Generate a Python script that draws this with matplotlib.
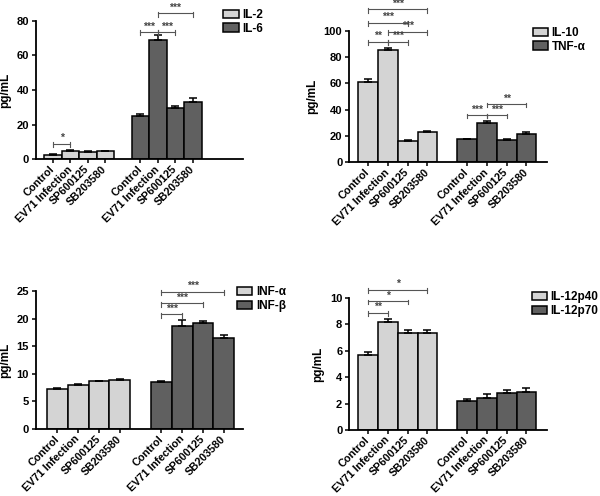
import matplotlib
matplotlib.use("Agg")
import matplotlib.pyplot as plt
from matplotlib.patches import Patch

plt.rcParams['font.family'] = ['Liberation Sans', 'DejaVu Sans']
plt.rcParams['font.weight'] = 'bold'

groups = ['Control', 'EV71 Infection', 'SP600125', 'SB203580']

# panel A
il2 = [2.7, 5.0, 4.3, 4.5]
il2_err = [0.3, 0.6, 0.3, 0.3]
il6 = [25.2, 69.2, 29.5, 33.3]
il6_err = [1.0, 2.7, 1.5, 2.1]

# panel B
il10 = [60.9, 85.5, 16.5, 22.8]
il10_err = [2.3, 1.5, 0.5, 1.2]
tnf = [17.5, 30.2, 17.0, 21.3]
tnf_err = [0.3, 1.0, 0.8, 2.0]

# panel C
infa = [7.25, 7.97, 8.64, 8.94]
infa_err = [0.25, 0.18, 0.16, 0.16]
infb = [8.45, 18.7, 19.26, 16.55]
infb_err = [0.18, 1.0, 0.25, 0.45]

# panel D
p40 = [5.7, 8.19, 7.36, 7.34]
p40_err = [0.25, 0.21, 0.2, 0.26]
p70 = [2.2, 2.4, 2.8, 2.87]
p70_err = [0.18, 0.3, 0.2, 0.33]

# brackets: (x1, x2, y, label) in bar positions (0-3 group 1, 5-8 group 2)
br_a = [(0, 1, 8.9, '*'), (5, 6, 73.6, '***'), (6, 7, 73.6, '***'), (6, 8, 84.5, '***')]
br_b = [(0, 1, 91.9, '**'), (1, 2, 91.9, '***'), (1, 3, 99.5, '***'),
        (0, 2, 106.3, '***'), (0, 3, 116.5, '***'),
        (5, 6, 36, '***'), (6, 7, 36, '***'), (6, 8, 44.4, '**')]
br_c = [(5, 6, 20.8, '***'), (5, 7, 22.8, '***'), (5, 8, 24.9, '***')]
br_d = [(0, 1, 8.9, '**'), (0, 2, 9.77, '*'), (0, 3, 10.65, '*')]

light = '#d4d4d4'
dark = '#606060'

fig = plt.figure(figsize=(6, 4.96), dpi=100)


def panel(rect, v1, e1, v2, e2, ymax, ystep, xlim, brackets, names, leg_xy):
    ax = fig.add_axes(rect)
    pos1 = [0, 1, 2, 3]
    pos2 = [5, 6, 7, 8]
    ax.bar(pos1, v1, width=1.0, color=light, edgecolor='black', linewidth=1.1,
           yerr=[[0] * 4, e1], capsize=3, error_kw=dict(elinewidth=1.1, capthick=1.1))
    ax.bar(pos2, v2, width=1.0, color=dark, edgecolor='black', linewidth=1.1,
           yerr=[[0] * 4, e2], capsize=3, error_kw=dict(elinewidth=1.1, capthick=1.1))
    ax.set_xlim(*xlim)
    ax.set_ylim(0, ymax)
    ax.set_yticks(range(0, ymax + 1, ystep))
    ax.set_xticks(pos1 + pos2)
    ax.set_xticklabels(groups + groups, rotation=45, ha='right', va='center',
                       rotation_mode='anchor', fontsize=7.8, fontweight='bold')
    ax.tick_params(axis='y', labelsize=8, width=1.1, length=3, pad=2)
    ax.tick_params(axis='x', width=1.1, length=3, pad=3)
    for lab in ax.get_yticklabels():
        lab.set_fontweight('bold')
    for s in ['top', 'right']:
        ax.spines[s].set_visible(False)
    for s in ['left', 'bottom']:
        ax.spines[s].set_linewidth(1.3)
    ax.set_ylabel('pg/mL', fontsize=8.5, fontweight='bold', labelpad=4)
    tick = ymax * 0.018
    for x1, x2, y, lab in brackets:
        ax.plot([x1, x2], [y, y], color='#555555', lw=0.8, clip_on=False)
        for x in (x1, x2):
            ax.plot([x, x], [y - tick * 1.4, y + tick * 0.6], color='#555555', lw=0.8, clip_on=False)
        ax.text((x1 + x2) / 2, y + tick * 0.2, lab, ha='center', va='bottom',
                fontsize=7.5, color='#444444', clip_on=False)
    handles = [Patch(facecolor=light, edgecolor='black', linewidth=1.1),
               Patch(facecolor=dark, edgecolor='black', linewidth=1.1)]
    fig.legend(handles, names, loc='upper left', bbox_to_anchor=leg_xy, frameon=False,
               prop=dict(size=8.5, weight='bold'), handlelength=1.3, handleheight=0.7,
               borderpad=0, borderaxespad=0, labelspacing=0.15, handletextpad=0.3)
    return ax


panel([0.06, 0.679, 0.345, 0.279], il2, il2_err, il6, il6_err, 80, 20, (-0.96, 10.87),
      br_a, ['IL-2', 'IL-6'], (0.372, 0.982))
panel([0.582, 0.673, 0.33, 0.2645], il10, il10_err, tnf, tnf_err, 100, 20, (-0.95, 9.05),
      br_b, ['IL-10', 'TNF-α'], (0.888, 0.946))
panel([0.06, 0.135, 0.345, 0.278], infa, infa_err, infb, infb_err, 25, 5, (-1.03, 8.92),
      br_c, ['INF-α', 'INF-β'], (0.395, 0.423))
panel([0.582, 0.133, 0.33, 0.266], p40, p40_err, p70, p70_err, 10, 2, (-0.95, 9.05),
      br_d, ['IL-12p40', 'IL-12p70'], (0.886, 0.413))

fig.savefig('out.png', dpi=100, facecolor='white')
